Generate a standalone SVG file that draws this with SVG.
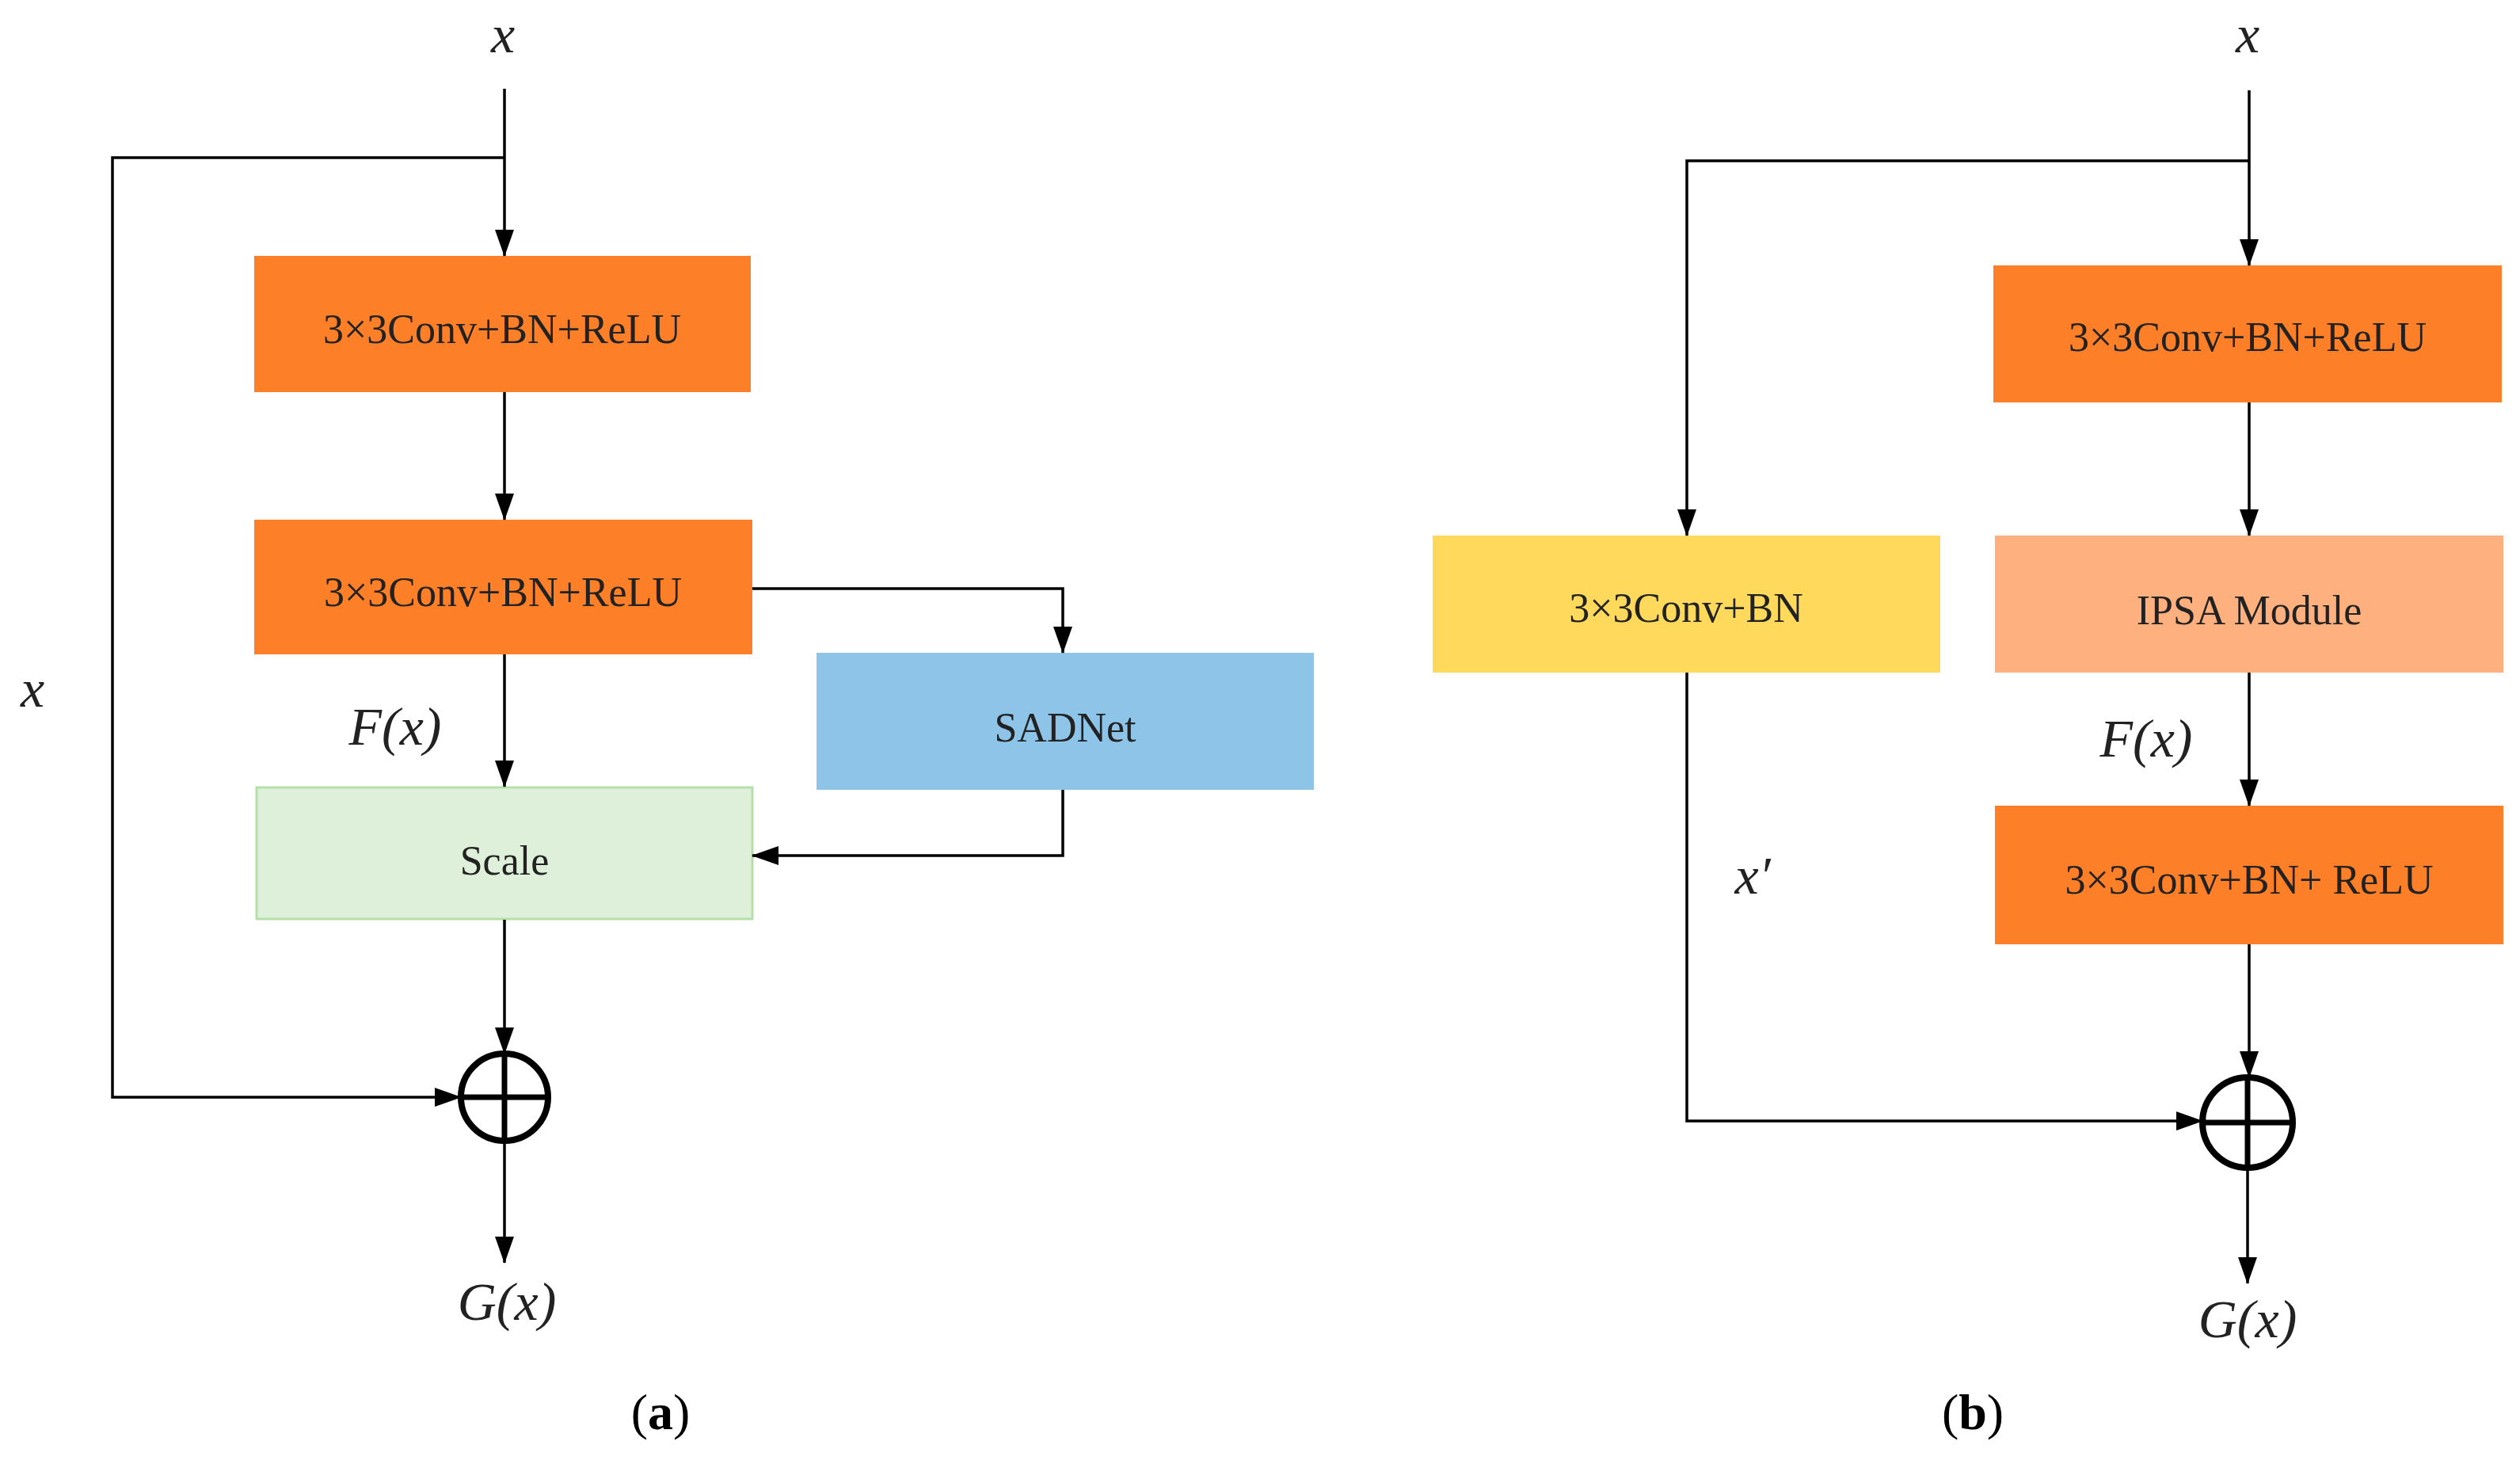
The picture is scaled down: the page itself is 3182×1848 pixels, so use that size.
<svg xmlns="http://www.w3.org/2000/svg" width="3182" height="1848" viewBox="0 0 3182 1848">
<style>
.t{font-family:"Liberation Serif",serif;font-size:52px;fill:#222;text-anchor:middle;dominant-baseline:central}
.i{font-family:"Liberation Serif",serif;font-size:68px;font-style:italic;fill:#222;text-anchor:middle}
.c{fill:none;stroke:#000;stroke-width:3.5}
.o{fill:#fd7f28}
</style>
<defs><marker id="a" markerWidth="34" markerHeight="24" refX="33" refY="12" orient="auto" markerUnits="userSpaceOnUse"><path d="M0,0L34,12L0,24Z" fill="#000"/></marker></defs>
<rect width="3182" height="1848" fill="#fff"/>
<g id="a1"><rect class="o" x="321" y="323" width="627" height="172"/><text class="t" x="634" y="415">3×3Conv+BN+ReLU</text></g>
<g id="a2"><rect class="o" x="321" y="656" width="629" height="170"/><text class="t" x="635" y="747">3×3Conv+BN+ReLU</text></g>
<g id="sadnet"><rect x="1031" y="824" width="628" height="173" fill="#8dc4e8"/><text class="t" x="1345" y="918">SADNet</text></g>
<g id="scale"><rect x="324" y="994" width="626" height="166" fill="#dff0da" stroke="#b5dfa8" stroke-width="3"/><text class="t" x="637" y="1086">Scale</text></g>
<g id="sumA"><circle cx="637" cy="1385" r="55" fill="none" stroke="#000" stroke-width="8"/><path d="M582,1385H692M637,1330V1440" stroke="#000" stroke-width="7"/></g>
<g id="b1"><rect class="o" x="2517" y="335" width="642" height="173"/><text class="t" x="2838" y="425">3×3Conv+BN+ReLU</text></g>
<g id="yellow"><rect x="1809" y="676" width="641" height="173" fill="#fed95c"/><text class="t" x="2129" y="767">3×3Conv+BN</text></g>
<g id="ipsa"><rect x="2519" y="676" width="642" height="173" fill="#feb07f"/><text class="t" x="2840" y="770">IPSA Module</text></g>
<g id="b3"><rect class="o" x="2519" y="1017" width="642" height="175" fill="#fd7f28"/><text class="t" x="2840" y="1110">3×3Conv+BN+ ReLU</text></g>
<g id="sumB"><circle cx="2838" cy="1417" r="57" fill="none" stroke="#000" stroke-width="8"/><path d="M2781,1417H2895M2838,1360V1474" stroke="#000" stroke-width="7"/></g>
<g id="connectors">
<path class="c" d="M637,112V323" marker-end="url(#a)"/>
<path class="c" d="M637,199H142V1385H582" marker-end="url(#a)"/>
<path class="c" d="M637,495V656" marker-end="url(#a)"/>
<path class="c" d="M950,743H1342V824" marker-end="url(#a)"/>
<path class="c" d="M637,826V993" marker-end="url(#a)"/>
<path class="c" d="M1342,997V1080H950" marker-end="url(#a)"/>
<path class="c" d="M637,1161V1330" marker-end="url(#a)"/>
<path class="c" d="M637,1440V1594" marker-end="url(#a)"/>
<path class="c" d="M2840,114V335" marker-end="url(#a)"/>
<path class="c" d="M2840,203H2130V676" marker-end="url(#a)"/>
<path class="c" d="M2840,508V676" marker-end="url(#a)"/>
<path class="c" d="M2840,849V1017" marker-end="url(#a)"/>
<path class="c" d="M2840,1192V1360" marker-end="url(#a)"/>
<path class="c" d="M2130,849V1415H2781" marker-end="url(#a)"/>
<path class="c" d="M2838,1474V1620" marker-end="url(#a)"/>
</g>
<g id="labels">
<text class="i" x="635" y="66">x</text>
<text class="i" x="41" y="892">x</text>
<text class="i" x="499" y="940">F(x)</text>
<text class="i" x="640" y="1666">G(x)</text>
<text class="i" x="2838" y="66">x</text>
<text class="i" x="2213" y="1128">x′</text>
<text class="i" x="2710" y="955">F(x)</text>
<text class="i" x="2838" y="1688">G(x)</text>
<text x="834" y="1804" font-family="Liberation Serif,serif" font-size="64" text-anchor="middle" fill="#000">(<tspan font-weight="bold">a</tspan>)</text>
<text x="2491" y="1804" font-family="Liberation Serif,serif" font-size="64" text-anchor="middle" fill="#000">(<tspan font-weight="bold">b</tspan>)</text>
</g>
</svg>
